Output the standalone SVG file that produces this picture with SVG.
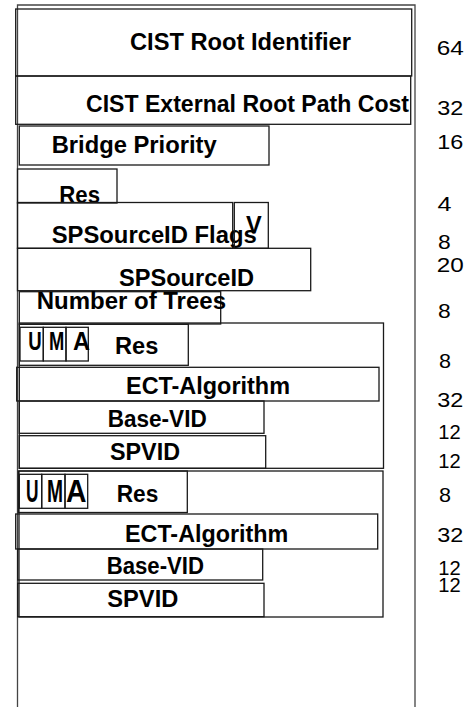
<svg xmlns="http://www.w3.org/2000/svg" width="469" height="707" viewBox="0 0 469 707">
<style>
.box{fill:none;stroke:#1a1a1a;stroke-width:1.3}
.frame{fill:none;stroke:#444;stroke-width:1.3}
.lbl{font-family:"Liberation Sans",Arial,sans-serif;font-weight:bold;font-size:23px;fill:#000}
.mid{font-family:"Liberation Sans",Arial,sans-serif;font-weight:bold;font-size:25px;fill:#000}
.big{font-family:"Liberation Sans",Arial,sans-serif;font-weight:bold;font-size:32px;fill:#000}
.num{font-family:"Liberation Sans",Arial,sans-serif;font-size:20px;fill:#000}
</style>
<rect width="469" height="707" fill="#fff"/>
<g id="frame">
<polyline class="frame" points="17.5,707 17.5,5 415,5 415,707"/>
</g>
<g id="cist-root">
<rect class="box" x="15.7" y="9" width="396" height="67"/>
<text class="lbl" x="130" y="50" textLength="221" lengthAdjust="spacingAndGlyphs">CIST Root Identifier</text>
</g>
<g id="cist-ext">
<rect class="box" x="15.7" y="76" width="395" height="48.3"/>
<text class="lbl" x="86" y="111.7" textLength="323" lengthAdjust="spacingAndGlyphs">CIST External Root Path Cost</text>
</g>
<g id="bridge-priority">
<rect class="box" x="19.3" y="126" width="249.7" height="39"/>
<text class="lbl" x="51.7" y="153" textLength="165" lengthAdjust="spacingAndGlyphs">Bridge Priority</text>
</g>
<g id="res0">
<rect class="box" x="17.5" y="169" width="99.5" height="34"/>
<text class="lbl" x="59.3" y="203.3" textLength="40.7" lengthAdjust="spacingAndGlyphs">Res</text>
</g>
<g id="sps-flags">
<rect class="box" x="17.5" y="202.5" width="215.2" height="45.8"/>
<text class="lbl" x="51.7" y="242.7" textLength="205" lengthAdjust="spacingAndGlyphs">SPSourceID Flags</text>
</g>
<g id="v-flag">
<rect class="box" x="234.3" y="202.5" width="34" height="45.8"/>
<text class="lbl" x="246" y="233.3" textLength="15.7" lengthAdjust="spacingAndGlyphs">V</text>
</g>
<g id="spsourceid">
<rect class="box" x="17.5" y="248.3" width="293.2" height="42.4"/>
<text class="lbl" x="119" y="285.7" textLength="135" lengthAdjust="spacingAndGlyphs">SPSourceID</text>
</g>
<g id="num-trees">
<rect class="box" x="19.3" y="291.7" width="201.4" height="32.3"/>
<text class="lbl" x="36.7" y="309.3" textLength="189.3" lengthAdjust="spacingAndGlyphs">Number of Trees</text>
</g>
<g id="tree1">
<rect class="box" x="19.3" y="323" width="364.2" height="145.3"/>
<g id="tree1-flags">
<rect class="box" x="19.3" y="324.3" width="169" height="41"/>
<rect class="box" x="20" y="327.3" width="23.3" height="33.7"/>
<rect class="box" x="43.3" y="327.3" width="22.7" height="33.7"/>
<rect class="box" x="66" y="327.3" width="22.3" height="33.7"/>
<text class="mid" x="28.3" y="350" textLength="13.4" lengthAdjust="spacingAndGlyphs">U</text>
<text class="mid" x="49" y="350" textLength="15.3" lengthAdjust="spacingAndGlyphs">M</text>
<text class="mid" x="73" y="350" textLength="17" lengthAdjust="spacingAndGlyphs">A</text>
<text class="lbl" x="115" y="354.3" textLength="43.3" lengthAdjust="spacingAndGlyphs">Res</text>
</g>
<g id="tree1-ect">
<rect class="box" x="16.7" y="367.3" width="362.3" height="33.7"/>
<text class="lbl" x="126" y="393.7" textLength="164" lengthAdjust="spacingAndGlyphs">ECT-Algorithm</text>
</g>
<g id="tree1-basevid">
<rect class="box" x="19.3" y="401" width="244.7" height="32.3"/>
<text class="lbl" x="107.7" y="427.3" textLength="99" lengthAdjust="spacingAndGlyphs">Base-VID</text>
</g>
<g id="tree1-spvid">
<rect class="box" x="19.3" y="435.7" width="246.4" height="32.6"/>
<text class="lbl" x="110" y="460" textLength="70" lengthAdjust="spacingAndGlyphs">SPVID</text>
</g>
</g>
<g id="tree2">
<rect class="box" x="19" y="471" width="364" height="146"/>
<g id="tree2-flags">
<rect class="box" x="18.3" y="471" width="169" height="41.5"/>
<rect class="box" x="19.3" y="474.3" width="22.4" height="34"/>
<rect class="box" x="41.7" y="474.3" width="23.3" height="34"/>
<rect class="box" x="65" y="474.3" width="22.7" height="34"/>
<text class="big" x="26" y="502" textLength="12.5" lengthAdjust="spacingAndGlyphs">U</text>
<text class="big" x="47" y="502" textLength="16" lengthAdjust="spacingAndGlyphs">M</text>
<text class="big" x="66" y="502" textLength="20.5" lengthAdjust="spacingAndGlyphs">A</text>
<text class="lbl" x="116.7" y="502.3" textLength="41.6" lengthAdjust="spacingAndGlyphs">Res</text>
</g>
<g id="tree2-ect">
<rect class="box" x="15.7" y="514" width="362" height="35"/>
<text class="lbl" x="125" y="541.7" textLength="163.3" lengthAdjust="spacingAndGlyphs">ECT-Algorithm</text>
</g>
<g id="tree2-basevid">
<rect class="box" x="17.7" y="549" width="245" height="31"/>
<text class="lbl" x="106.7" y="574" textLength="97.3" lengthAdjust="spacingAndGlyphs">Base-VID</text>
</g>
<g id="tree2-spvid">
<rect class="box" x="17.7" y="583.3" width="246.3" height="33.4"/>
<text class="lbl" x="107.3" y="607.3" textLength="71" lengthAdjust="spacingAndGlyphs">SPVID</text>
</g>
</g>
<g id="sizes">
<text class="num" x="436.7" y="55" textLength="27" lengthAdjust="spacingAndGlyphs">64</text>
<text class="num" x="437.3" y="115" textLength="26" lengthAdjust="spacingAndGlyphs">32</text>
<text class="num" x="437.3" y="149" textLength="26" lengthAdjust="spacingAndGlyphs">16</text>
<text class="num" x="437.5" y="210.7" textLength="14" lengthAdjust="spacingAndGlyphs">4</text>
<text class="num" x="438" y="249.3" textLength="12.7" lengthAdjust="spacingAndGlyphs">8</text>
<text class="num" x="436.7" y="271.7" textLength="27" lengthAdjust="spacingAndGlyphs">20</text>
<text class="num" x="438" y="318.3" textLength="12.7" lengthAdjust="spacingAndGlyphs">8</text>
<text class="num" x="439" y="368.3" textLength="12" lengthAdjust="spacingAndGlyphs">8</text>
<text class="num" x="437.3" y="406.7" textLength="26" lengthAdjust="spacingAndGlyphs">32</text>
<text class="num" x="438.3" y="439.3" textLength="22.4" lengthAdjust="spacingAndGlyphs">12</text>
<text class="num" x="438.3" y="468.3" textLength="22.4" lengthAdjust="spacingAndGlyphs">12</text>
<text class="num" x="439" y="502.3" textLength="12" lengthAdjust="spacingAndGlyphs">8</text>
<text class="num" x="437.3" y="541.7" textLength="26" lengthAdjust="spacingAndGlyphs">32</text>
<text class="num" x="438.3" y="575" textLength="22.4" lengthAdjust="spacingAndGlyphs">12</text>
<text class="num" x="438.3" y="592" textLength="22.4" lengthAdjust="spacingAndGlyphs">12</text>
</g>
</svg>
